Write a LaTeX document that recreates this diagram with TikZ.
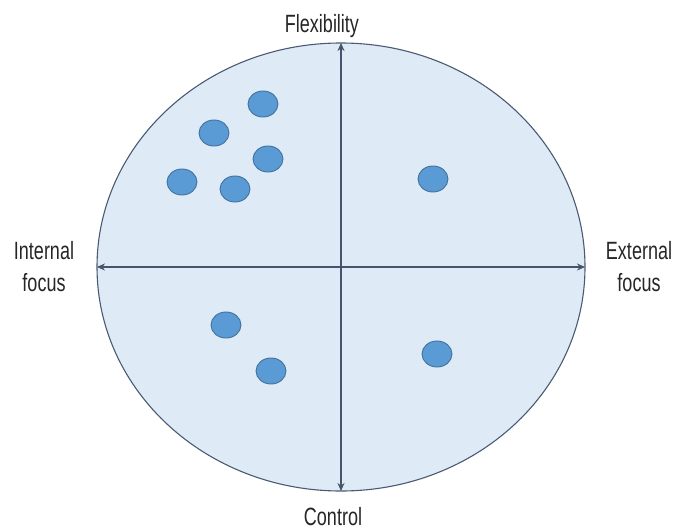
\documentclass[tikz,border=0pt]{standalone}
\usepackage{fontspec}
\setmainfont[FakeStretch=0.72]{Liberation Sans}
\usetikzlibrary{arrows.meta,shapes.geometric}
\definecolor{disc}{HTML}{DEEBF7}
\definecolor{rim}{HTML}{4A5A72}
\definecolor{axis}{HTML}{44546A}
\definecolor{dotfill}{HTML}{5B9BD5}
\definecolor{dotrim}{HTML}{41719C}
\tikzset{
  field/.style={draw=rim, line width=1.1pt, fill=disc},
  axisline/.style={draw=axis, line width=1.1pt, {Stealth[length=8pt,width=7pt]}-{Stealth[length=8pt,width=7pt]}},
  item/.style={ellipse, draw=dotrim, line width=0.9pt, fill=dotfill, minimum width=30pt, minimum height=26pt, inner sep=0pt},
  axislabel/.style={font=\fontsize{25}{32}\selectfont, text=black!85, align=center, inner sep=0pt}
}
\begin{document}
\begin{tikzpicture}[x=1pt,y=-1pt]
  \useasboundingbox (0,0) rectangle (675,530);
  % background disc
  \draw[field] (341,267) ellipse [x radius=244, y radius=224];
  % end points of the two axes on the rim
  \coordinate (top) at (341,43);
  \coordinate (bottom) at (341,491);
  \coordinate (left) at (97,267);
  \coordinate (right) at (585,267);
  \draw[axisline] (bottom) -- (top);
  \draw[axisline] (left) -- (right);
  % axis labels (base of a two-line label is its last line)
  \node[axislabel, anchor=base] (flex) at (322,32) {Flexibility};
  \node[axislabel, anchor=base] (ctrl) at (333,525) {Control};
  \node[axislabel, anchor=base] (intl) at (44,291) {Internal\\focus};
  \node[axislabel, anchor=base] (extl) at (639,291) {External\\focus};
  % items
  \node[item] (d1) at (263,104) {};
  \node[item] (d2) at (214,133) {};
  \node[item] (d3) at (268,159) {};
  \node[item] (d4) at (182,182) {};
  \node[item] (d5) at (235,189) {};
  \node[item] (d6) at (433,179) {};
  \node[item] (d7) at (226,325) {};
  \node[item] (d8) at (271,371) {};
  \node[item] (d9) at (437,354) {};
\end{tikzpicture}
\end{document}
